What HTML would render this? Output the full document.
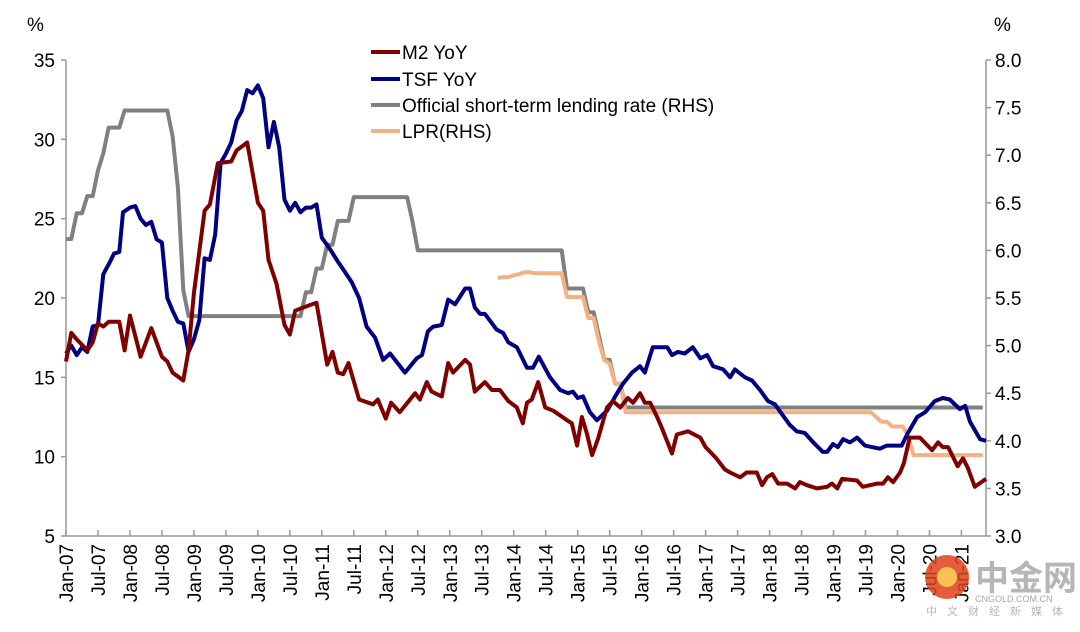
<!DOCTYPE html>
<html><head><meta charset="utf-8"><style>
body{margin:0;background:#fff;}
svg text{font-family:"Liberation Sans",Arial,sans-serif;fill:#000;}
</style></head><body>
<svg id="chart" width="1080" height="627" viewBox="0 0 1080 627" xmlns="http://www.w3.org/2000/svg">
<g id="axes"></g>
<g id="series"></g>
<g id="legend">
 <line x1="371" y1="52" x2="400" y2="52" stroke="#800000" stroke-width="4"/>
 <text x="402" y="59" font-size="19">M2 YoY</text>
 <line x1="371" y1="79" x2="400" y2="79" stroke="#000080" stroke-width="4"/>
 <text x="402" y="86" font-size="19">TSF YoY</text>
 <line x1="371" y1="105" x2="400" y2="105" stroke="#808080" stroke-width="4"/>
 <text x="402" y="112" font-size="19">Official short-term lending rate (RHS)</text>
 <line x1="371" y1="131" x2="400" y2="131" stroke="#F4B183" stroke-width="4"/>
 <text x="402" y="138" font-size="19">LPR(RHS)</text>
</g>
<text x="27" y="31" font-size="19">%</text>
<text x="994" y="31" font-size="19">%</text>
<g id="watermark" opacity="0.85">
 <circle cx="947" cy="577" r="22" fill="#e0431b"/>
 <circle cx="947" cy="577" r="10" fill="#f7b733"/>
 <text x="975" y="590" font-size="34" font-weight="bold" style="font-family:'Noto Sans CJK SC',sans-serif;fill:#aaa">中金网</text>
 <text x="975" y="602" font-size="9" style="fill:#999">CNGOLD.COM.CN</text>
 <text x="926" y="615" font-size="11" style="font-family:'Noto Sans CJK SC',sans-serif;fill:#aaa" letter-spacing="10">中文财经新媒体</text>
</g>
</svg>
<script>
const NS="http://www.w3.org/2000/svg";
// Month index: 0 = Jan-07
const m2Month=[0,1,2,4,5,6,7,8,10,11,12,14,16,18,19,20,22,23,24,26,27,28.5,31,32,34,36,37,38,39.5,41,42,43,44.5,47,49,50,51,52,53,55,57.6,58.5,60,61,62.6,65.5,66.4,67.7,68.6,70.5,71.7,72.6,74.9,75.8,76.7,78.6,79.9,81.4,83,84.6,85.7,86.5,87.4,88.6,89.9,91.4,94,94.9,95.9,96.8,97.7,98.7,99.8,101.5,102.6,104,105.4,106.4,107.7,108.6,109.6,110.9,111.8,113.7,114.6,116.7,119,120,122,123.6,124.6,126.5,127.7,129.6,130.6,131.5,132.5,133.6,135.3,136.8,137.7,139,140.9,142.8,143.7,144.7,145.6,148.4,149.5,152.2,153.3,154.2,155.2,156.5,157.2,158.3,160.2,162.5,163.6,164.5,165.5,167.3,168.3,169.2,170.5,172.6];
const m2Val=[16.0,17.8,17.4,16.7,17.2,18.4,18.2,18.5,18.5,16.7,18.9,16.3,18.1,16.3,16.0,15.3,14.8,16.7,20.3,25.5,25.9,28.5,28.6,29.3,29.8,26.0,25.5,22.4,20.9,18.3,17.7,19.2,19.4,19.7,15.8,16.6,15.3,15.2,15.9,13.6,13.3,13.6,12.4,13.4,12.8,14.0,13.6,14.7,14.1,13.8,15.9,15.3,16.1,15.8,14.1,14.7,14.2,14.2,13.5,13.1,12.1,13.4,13.6,14.7,13.1,12.9,12.3,12.1,10.7,12.5,11.5,10.1,11.1,13.1,13.5,13.1,13.7,13.4,14.0,13.4,13.4,12.5,11.8,10.2,11.4,11.6,11.2,10.6,9.9,9.2,9.0,8.7,9.0,9.0,8.2,8.7,8.9,8.3,8.3,8.0,8.4,8.2,8.0,8.1,8.3,8.0,8.6,8.5,8.1,8.3,8.3,8.7,8.4,9.0,9.6,11.2,11.2,10.4,10.9,10.6,10.6,9.4,9.9,9.3,8.1,8.6];
const tsfMonth=[0,1,2,3,4,5,6,7,8.3,9,10,10.7,12,13,14,15,16,17,18,19,20,21,22,23,24,25,26,27,28,29,30,31,32,33,34,35,36,37,38,39,40,41,42,43,44,45,46,47,48,49.5,51,52,53.6,55,56.4,58,59.5,60.8,63.6,65.8,66.8,67.9,68.9,70.5,71.7,73,74.9,75.8,76.7,77.7,78.6,80.8,82,83,84.6,86.5,87.6,88.7,90.8,92.7,94.2,95.1,96,97,98.3,99.6,101.5,103.4,104.5,106.2,107.7,108.6,110.1,111,112.8,113.7,114.8,116.1,117.6,119,120.3,121.4,123.3,124.6,125.5,127.4,128.7,130.2,131.7,133,134.5,135.8,137.1,138.6,140.2,142,142.8,143.9,144.8,145.8,147.1,148.4,149.9,151.2,152.7,154,156.8,157.8,159.7,161.2,163,164.5,165.8,167.7,168.7,169.6,171.5,172.6];
const tsfVal=[16.5,17.0,16.4,16.9,16.6,18.2,18.3,21.5,22.3,22.8,22.9,25.4,25.7,25.8,25.0,24.6,24.8,23.7,23.5,20.0,19.2,18.5,18.4,16.6,17.4,18.6,22.5,22.4,24.0,28.5,29.1,29.8,31.2,31.8,33.1,32.9,33.4,32.6,29.5,31.1,29.5,26.2,25.5,26.0,25.4,25.7,25.7,25.9,23.8,23.1,22.3,21.8,21.0,20.0,18.2,17.5,16.1,16.5,15.3,16.2,16.4,17.9,18.2,18.3,19.9,19.6,20.6,20.6,19.4,19.0,19.0,18.0,17.8,17.2,16.9,15.6,15.6,16.3,15.0,14.2,14.0,14.1,13.7,13.8,12.8,12.3,12.9,14.0,14.6,15.3,15.7,15.3,16.9,16.9,16.9,16.4,16.6,16.5,16.9,16.2,16.4,15.7,15.5,15.0,15.5,15.0,14.8,14.2,13.5,13.3,12.6,12.0,11.6,11.5,10.9,10.3,10.3,10.8,10.6,11.1,10.9,11.2,10.7,10.6,10.5,10.7,10.7,11.4,12.5,12.8,13.5,13.7,13.6,13.0,13.2,12.2,11.1,11.0];
// Official rate: month of change and new value
const rateMonth=[0,2,4,6,7,8,11,20,21,22,23,45,47,49,51,54,65,66,94,98,100,101,103,105,172];
const rateVal=[6.12,6.39,6.57,6.84,7.02,7.29,7.47,7.20,6.66,5.58,5.31,5.56,5.81,6.06,6.31,6.56,6.31,6.00,5.60,5.35,5.10,4.85,4.60,4.35,4.35];
const lprMonth=[81,82,83,84,85,86,87,88,93,94,97,98,99,100,101,102,103,104,105,151,152,153,154,155,157,158,159,172];
const lprVal=[5.71,5.72,5.72,5.74,5.75,5.77,5.77,5.76,5.76,5.51,5.51,5.29,5.29,5.04,4.85,4.81,4.60,4.60,4.30,4.30,4.25,4.20,4.20,4.15,4.15,4.05,3.85,3.85];
const leftTicks=[5,10,15,20,25,30,35];
const rightTicks=["3.0","3.5","4.0","4.5","5.0","5.5","6.0","6.5","7.0","7.5","8.0"];
const xLabels=["Jan-07","Jul-07","Jan-08","Jul-08","Jan-09","Jul-09","Jan-10","Jul-10","Jan-11","Jul-11","Jan-12","Jul-12","Jan-13","Jul-13","Jan-14","Jul-14","Jan-15","Jul-15","Jan-16","Jul-16","Jan-17","Jul-17","Jan-18","Jul-18","Jan-19","Jul-19","Jan-20","Jul-20","Jan-21"];

const X0=66,X1=986,YT=60,YB=536,PPM=5.33;
const x=m=>X0+m*PPM;
const yL=v=>YB-(v-5)/30*(YB-YT);
const yR=v=>YB-(v-3)/5*(YB-YT);
const axes=document.getElementById('axes'), ser=document.getElementById('series');
function mk(tag,attrs,parent){const e=document.createElementNS(NS,tag);for(const k in attrs)e.setAttribute(k,attrs[k]);parent.appendChild(e);return e;}

let e=mk('line',{x1:X0,y1:YT,x2:X0,y2:YB,stroke:'#999','stroke-width':1.5},axes);


e=mk('line',{x1:X1,y1:YT,x2:X1,y2:YB,stroke:'#999','stroke-width':1.5},axes);


e=mk('line',{x1:X0,y1:YB,x2:X1,y2:YB,stroke:'#999','stroke-width':1.5},axes);


leftTicks.forEach(v=>{
 mk('line',{x1:X0-5,y1:yL(v),x2:X0,y2:yL(v),stroke:'#999','stroke-width':1.5},axes);
 const t=mk('text',{x:55,y:yL(v)+7,'font-size':19,'text-anchor':'end'},axes);t.textContent=v;
 
 
});
rightTicks.forEach(s=>{
 const v=parseFloat(s);
 mk('line',{x1:X1,y1:yR(v),x2:X1+5,y2:yR(v),stroke:'#999','stroke-width':1.5},axes);
 const t=mk('text',{x:995,y:yR(v)+7,'font-size':19},axes);t.textContent=s;
 
 
});
xLabels.forEach((s,k)=>{
 const xx=x(k*6);
 mk('line',{x1:xx,y1:YB-6,x2:xx,y2:YB,stroke:'#999','stroke-width':1.5},axes);
 const t=mk('text',{x:0,y:0,'font-size':19,'text-anchor':'end',transform:`translate(${xx+7},${YB+8}) rotate(-90)`},axes);t.textContent=s;
 
 
});
function line(ms,vs,yf,col,name){
 const pts=ms.map((m,i)=>x(m).toFixed(1)+','+yf(vs[i]).toFixed(1)).join(' ');
 const p=mk('polyline',{points:pts,fill:'none',stroke:col,'stroke-width':4,'stroke-linejoin':'round'},ser);
 
 
}
function stepLine(ms,vs,yf,col,name){
 const pts=[];
 ms.forEach((m,i)=>{ if(i>0) pts.push([m-1,vs[i-1]]); pts.push([m,vs[i]]); });
 line(pts.map(p=>p[0]),pts.map(p=>p[1]),yf,col,name);
}
stepLine(rateMonth,rateVal,yR,'#808080','official-rate-line');
line(lprMonth,lprVal,yR,'#F4B183','lpr-line');
line(tsfMonth,tsfVal,yL,'#000080','tsf-line');
line(m2Month,m2Val,yL,'#800000','m2-line');
</script>
</body></html>
